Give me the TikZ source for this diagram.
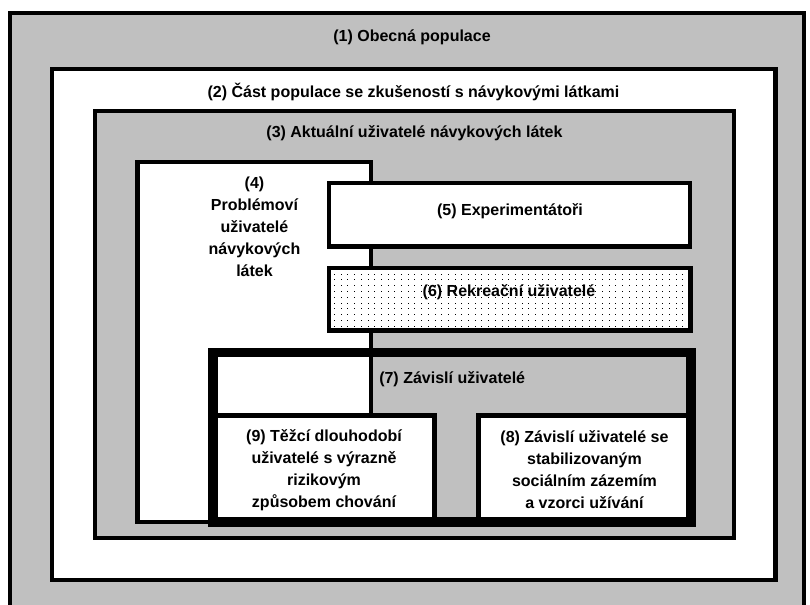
\documentclass[tikz,border=0pt]{standalone}
\usepackage{fontspec}
\setmainfont{Liberation Sans}
\definecolor{popgray}{RGB}{192,192,192}

\begin{document}
\begin{tikzpicture}[x=0.75pt,y=-0.75pt,
  popbox/.style={draw=black,line width=3.2pt},
  depbox/.style={draw=black,line width=7pt},
  lbl/.style={font=\fontsize{12}{16.5}\selectfont\bfseries,align=center,inner sep=0pt}]

\useasboundingbox (0,0) rectangle (810,604);
\clip (0,0) rectangle (810,604);

\filldraw[popbox,fill=popgray] (10,13) rectangle (804,640);
\filldraw[popbox,fill=white] (52,69) rectangle (775.5,580);
\filldraw[popbox,fill=popgray] (95,111) rectangle (734,538);
\filldraw[popbox,fill=white] (137.5,162) rectangle (371,522);
\filldraw[popbox,fill=white] (329,183) rectangle (690,246.5);
\filldraw[popbox,fill=white] (329,268) rectangle (690.5,330.5);
\foreach \i in {0,...,52}
  \foreach \j in {0,...,9}
    \fill (334+\i*6.7,273.5+\j*5.8) rectangle +(1,1);
\filldraw[popbox,fill=white] (213,415.5) rectangle (434.5,522);
\filldraw[popbox,fill=white] (478.5,415.5) rectangle (691,522);
\draw[depbox] (213,352.5) rectangle (691,522);

\node[lbl] (t-1) at (412,37) {(1) Obecná populace};
\node[lbl] (t-2) at (413.5,92) {(2) Část populace se zkušeností s návykovými látkami};
\node[lbl] (t-3) at (414.5,133) {(3) Aktuální uživatelé návykových látek};
\node[lbl] (t-4) at (254.5,227) {(4)\\Problémoví\\uživatelé\\návykových\\látek};
\node[lbl] (t-5) at (510,211) {(5) Experimentátoři};
\node[lbl] (t-6) at (509,292) {(6) Rekreační uživatelé};
\node[lbl,anchor=west] (t-7) at (379,379) {(7) Závislí uživatelé};
\node[lbl] (t-9) at (324,470) {(9) Těžcí dlouhodobí\\uživatelé s výrazně\\rizikovým\\způsobem chování};
\node[lbl] (t-8) at (584.5,470) {(8) Závislí uživatelé se\\stabilizovaným\\sociálním zázemím\\a vzorci užívání};

\end{tikzpicture}
\end{document}
